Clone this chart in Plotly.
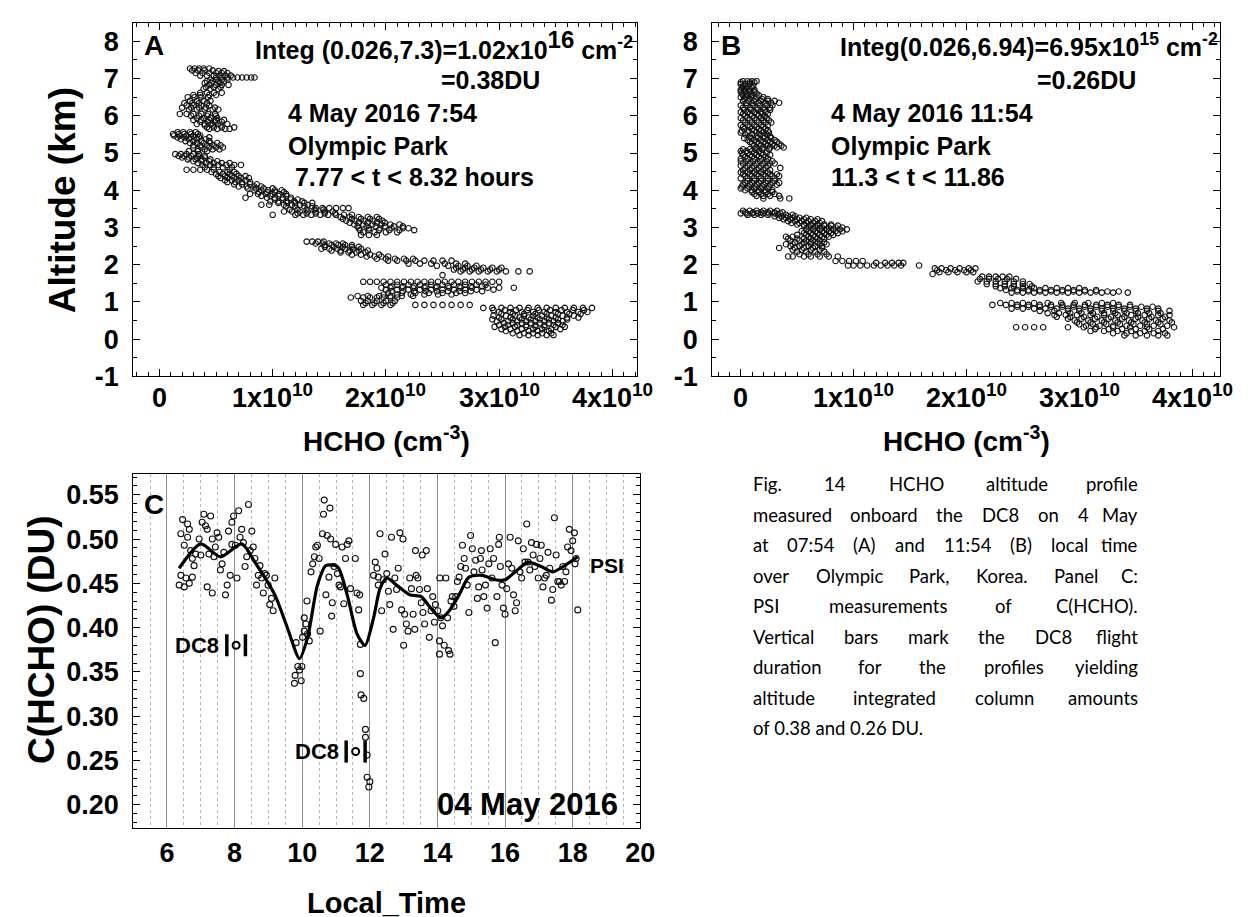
import plotly.graph_objects as go

W, H = 1248, 917

# ---------------- Panel A : HCHO profile 4 May 2016 7:54 (rows of altitude km, HCHO in 1e10 cm^-3)
rows_a = [
    (7.27, [0.27, 0.31, 0.35, 0.39, 0.44]),
    (7.22, [0.29, 0.34, 0.40, 0.47]),
    (7.20, [0.52, 0.57]),
    (7.15, [0.32, 0.38, 0.44, 0.50, 0.55, 0.60]),
    (7.08, [0.36, 0.42, 0.48, 0.53, 0.58, 0.63]),
    (7.03, [0.50, 0.55, 0.60, 0.65, 0.69, 0.73, 0.77, 0.81, 0.84]),
    (6.97, [0.45, 0.50, 0.55, 0.60]),
    (6.93, [0.42, 0.47, 0.52, 0.57]),
    (6.88, [0.40, 0.46, 0.53]),
    (6.83, [0.44, 0.50, 0.55, 0.61]),
    (6.77, [0.41, 0.48, 0.54]),
    (6.72, [0.39, 0.45, 0.52]),
    (6.62, [0.36, 0.42, 0.48, 0.55]),
    (6.56, [0.30, 0.36, 0.44, 0.50]),
    (6.50, [0.25, 0.31, 0.37, 0.43]),
    (6.40, [0.27, 0.33, 0.39, 0.45]),
    (6.34, [0.22, 0.29, 0.35, 0.42]),
    (6.28, [0.24, 0.30, 0.37, 0.44]),
    (6.22, [0.20, 0.28, 0.35, 0.41, 0.49]),
    (6.17, [0.26, 0.33, 0.40, 0.47, 0.52]),
    (6.05, [0.18, 0.24, 0.30, 0.37, 0.43, 0.49]),
    (6.00, [0.28, 0.35, 0.42, 0.50]),
    (5.94, [0.33, 0.39, 0.45, 0.51]),
    (5.89, [0.30, 0.37, 0.44, 0.50, 0.57]),
    (5.84, [0.36, 0.43, 0.49, 0.55]),
    (5.78, [0.33, 0.40, 0.46, 0.52, 0.60]),
    (5.74, [0.40, 0.47, 0.54]),
    (5.69, [0.42, 0.48, 0.55, 0.66]),
    (5.65, [0.44, 0.51, 0.58, 0.62]),
    (5.56, [0.16, 0.21, 0.27, 0.32]),
    (5.51, [0.12, 0.17, 0.22, 0.28, 0.34]),
    (5.47, [0.13, 0.18, 0.24, 0.30, 0.36]),
    (5.42, [0.16, 0.22, 0.28, 0.35, 0.44]),
    (5.37, [0.19, 0.26, 0.33, 0.41]),
    (5.32, [0.23, 0.30, 0.37, 0.44]),
    (5.27, [0.27, 0.33, 0.39, 0.45, 0.51]),
    (5.21, [0.30, 0.36, 0.42, 0.48, 0.54]),
    (5.15, [0.30, 0.37, 0.44, 0.50, 0.56]),
    (5.10, [0.34, 0.40, 0.47, 0.53]),
    (5.05, [0.26, 0.34, 0.42]),
    (4.97, [0.14, 0.19, 0.24, 0.30, 0.35]),
    (4.92, [0.17, 0.22, 0.28, 0.34, 0.40]),
    (4.88, [0.20, 0.26, 0.33, 0.40]),
    (4.83, [0.25, 0.32, 0.38, 0.45]),
    (4.78, [0.30, 0.37, 0.44, 0.51]),
    (4.73, [0.34, 0.41, 0.48, 0.55, 0.62]),
    (4.68, [0.38, 0.45, 0.52, 0.59, 0.66, 0.72]),
    (4.62, [0.40, 0.48, 0.56, 0.64]),
    (4.55, [0.24, 0.30, 0.36, 0.42, 0.48, 0.62]),
    (4.49, [0.46, 0.53, 0.60, 0.66]),
    (4.44, [0.50, 0.56, 0.62, 0.68]),
    (4.38, [0.52, 0.58, 0.64, 0.70, 0.76]),
    (4.33, [0.54, 0.60, 0.66, 0.72, 0.79]),
    (4.27, [0.58, 0.64, 0.70, 0.76]),
    (4.22, [0.60, 0.67, 0.73, 0.80]),
    (4.16, [0.66, 0.73, 0.80, 0.86]),
    (4.10, [0.70, 0.77, 0.84, 0.90]),
    (4.05, [0.78, 0.85, 0.92, 1.00]),
    (4.00, [0.84, 0.90, 0.96, 1.02, 1.08]),
    (3.95, [0.88, 0.95, 1.02, 1.10]),
    (3.90, [0.80, 0.87, 0.94, 1.00, 1.06, 1.12]),
    (3.85, [0.90, 0.98, 1.05, 1.12]),
    (3.80, [0.76, 0.95, 1.02, 1.09, 1.16]),
    (3.75, [1.02, 1.09, 1.16, 1.22]),
    (3.70, [0.98, 1.05, 1.12, 1.19, 1.26]),
    (3.66, [1.05, 1.13, 1.20, 1.28, 1.35]),
    (3.61, [0.90, 0.97, 1.10, 1.17, 1.24, 1.31]),
    (3.57, [1.12, 1.20, 1.28, 1.35]),
    (3.52, [1.38, 1.44, 1.50, 1.56, 1.62, 1.67]),
    (3.48, [1.15, 1.22, 1.30, 1.37, 1.45]),
    (3.43, [1.10, 1.17, 1.24, 1.31, 1.38, 1.46, 1.53]),
    (3.38, [1.22, 1.30, 1.38, 1.46, 1.55]),
    (3.34, [1.00, 1.20, 1.27, 1.34, 1.42, 1.49, 1.56, 1.63, 1.70]),
    (3.28, [1.60, 1.68, 1.76, 1.84, 1.92]),
    (3.23, [1.62, 1.70, 1.78, 1.86, 1.94]),
    (3.18, [1.65, 1.73, 1.81, 1.89, 1.97]),
    (3.13, [1.68, 1.76, 1.84, 1.92, 1.99]),
    (3.08, [1.72, 1.80, 1.88, 1.96, 2.04, 2.12]),
    (3.03, [1.75, 1.83, 1.91, 1.99, 2.07, 2.15]),
    (2.98, [1.76, 1.85, 1.95, 2.05, 2.15, 2.20]),
    (2.93, [1.77, 1.85, 1.94, 2.03, 2.12, 2.25]),
    (2.87, [1.80, 1.90, 2.00, 2.10]),
    (2.80, [1.78, 1.85, 1.92]),
    (2.62, [1.30, 1.35, 1.40, 1.45]),
    (2.57, [1.38, 1.44, 1.50, 1.56, 1.62]),
    (2.53, [1.46, 1.52, 1.58, 1.64, 1.70]),
    (2.48, [1.46, 1.54, 1.62, 1.70, 1.76]),
    (2.43, [1.43, 1.50, 1.57, 1.64, 1.71, 1.78]),
    (2.38, [1.52, 1.60, 1.68, 1.76, 1.84]),
    (2.33, [1.60, 1.67, 1.74, 1.82]),
    (2.27, [1.70, 1.78, 1.86, 1.94]),
    (2.22, [1.83, 1.90, 1.96, 2.02]),
    (2.16, [1.92, 2.00, 2.08, 2.16, 2.24]),
    (2.11, [2.02, 2.10, 2.18, 2.26, 2.34, 2.42, 2.50, 2.58]),
    (2.03, [2.20, 2.30, 2.40, 2.52, 2.62, 2.70]),
    (1.97, [2.45, 2.55, 2.64, 2.72, 2.80]),
    (1.92, [2.62, 2.70, 2.78, 2.86, 2.94, 3.02]),
    (1.87, [2.60, 2.68, 2.76, 2.84, 2.92, 3.00]),
    (1.82, [2.66, 2.74, 2.82, 2.90, 2.98, 3.06, 3.17, 3.27]),
    (1.72, [2.50]),
    (1.54, [1.80, 1.86, 1.92, 1.98, 2.04, 2.10, 2.16, 2.22, 2.28, 2.34, 2.40,
            2.46, 2.52, 2.58, 2.64, 2.70, 2.76, 2.82, 2.88, 2.94, 3.00]),
    (1.46, [2.00, 2.10, 2.20, 2.30, 2.40, 2.50, 2.60, 2.70, 2.80, 2.88]),
    (1.42, [2.05, 2.15, 2.25, 2.35, 2.45, 2.55, 2.65, 2.75, 2.85]),
    (1.38, [1.96, 2.04, 2.14, 2.24, 2.34, 2.44, 2.56, 2.66, 2.76, 2.90, 3.00, 3.13]),
    (1.33, [2.00, 2.10, 2.20, 2.30, 2.40, 2.50, 2.60, 2.70, 2.80, 2.95]),
    (1.29, [2.05, 2.15, 2.25, 2.35, 2.45, 2.55, 2.65, 2.75, 2.85]),
    (1.24, [2.02, 2.14, 2.26, 2.38, 2.50, 2.62, 2.70]),
    (1.20, [1.98, 2.10, 2.22, 2.34, 2.46, 2.58]),
    (1.16, [1.75, 1.84, 1.94, 2.04, 2.14, 2.24]),
    (1.12, [1.69, 1.80, 1.86, 1.92, 1.98, 2.04, 2.10]),
    (1.03, [1.78, 1.84, 1.92, 2.00, 2.08]),
    (0.97, [1.82, 1.90, 1.98, 2.06]),
    (0.92, [1.80, 1.88, 1.96, 2.04, 2.26, 2.34, 2.42, 2.50, 2.58, 2.66, 2.74]),
    (0.84, [2.86, 2.94, 3.02, 3.10, 3.18, 3.26, 3.34, 3.42, 3.50, 3.58, 3.66, 3.74, 3.82]),
    (0.78, [2.95, 3.05, 3.15, 3.25, 3.35, 3.45, 3.55, 3.65, 3.75]),
    (0.73, [3.00, 3.10, 3.20, 3.30, 3.40, 3.50, 3.60, 3.70, 3.78]),
    (0.68, [3.02, 3.12, 3.22, 3.32, 3.42, 3.52, 3.62, 3.72]),
    (0.63, [2.95, 3.06, 3.14, 3.22, 3.30, 3.38, 3.46, 3.56, 3.66]),
    (0.58, [3.00, 3.10, 3.18, 3.26, 3.34, 3.42, 3.50, 3.60, 3.70]),
    (0.53, [2.94, 3.02, 3.12, 3.20, 3.28, 3.36, 3.44, 3.52, 3.60]),
    (0.48, [2.98, 3.08, 3.16, 3.24, 3.32, 3.40, 3.48, 3.56]),
    (0.43, [3.04, 3.12, 3.20, 3.28, 3.36, 3.44, 3.52]),
    (0.38, [3.00, 3.08, 3.16, 3.24, 3.32, 3.40, 3.48, 3.56]),
    (0.33, [2.96, 3.05, 3.14, 3.24, 3.32, 3.40, 3.50, 3.58]),
    (0.27, [3.02, 3.10, 3.20, 3.30, 3.38, 3.46, 3.54]),
    (0.22, [3.06, 3.16, 3.26, 3.34, 3.44]),
    (0.16, [3.12, 3.22, 3.30, 3.38, 3.46]),
    (0.11, [3.18, 3.26, 3.34, 3.42, 3.48]),
]

# ---------------- Panel B : HCHO profile 4 May 2016 11:54
rows_b = [
    (6.93, [0.02, 0.06, 0.10, 0.14]),
    (6.90, [0.00, 0.08, 0.12]),
    (6.85, [0.00, 0.04, 0.08]),
    (6.80, [0.02, 0.06, 0.11]),
    (6.75, [0.01, 0.05, 0.10]),
    (6.70, [0.00, 0.03, 0.07, 0.12]),
    (6.65, [0.00, 0.04, 0.08, 0.12]),
    (6.60, [0.01, 0.05, 0.09, 0.14]),
    (6.55, [0.02, 0.06, 0.10, 0.16]),
    (6.50, [0.00, 0.04, 0.09, 0.14, 0.20]),
    (6.45, [0.03, 0.08, 0.13, 0.19, 0.24]),
    (6.40, [0.02, 0.07, 0.12, 0.18, 0.24, 0.30]),
    (6.35, [0.05, 0.10, 0.16, 0.22, 0.27, 0.34]),
    (6.28, [0.00, 0.05, 0.11, 0.17, 0.23, 0.28]),
    (6.22, [0.02, 0.08, 0.14, 0.20, 0.26]),
    (6.16, [0.03, 0.09, 0.15, 0.21, 0.26]),
    (6.10, [0.00, 0.06, 0.12, 0.18, 0.22]),
    (6.05, [0.02, 0.08, 0.14, 0.19, 0.24]),
    (6.00, [0.04, 0.10, 0.16, 0.21]),
    (5.94, [0.00, 0.06, 0.12, 0.18, 0.23]),
    (5.88, [0.02, 0.08, 0.14, 0.20, 0.25]),
    (5.82, [0.04, 0.10, 0.16, 0.22, 0.27]),
    (5.75, [0.00, 0.06, 0.12, 0.18, 0.24]),
    (5.70, [0.02, 0.08, 0.14, 0.20]),
    (5.65, [0.03, 0.10, 0.16, 0.22]),
    (5.60, [0.01, 0.07, 0.12, 0.18, 0.24]),
    (5.55, [0.00, 0.06, 0.14, 0.20, 0.25]),
    (5.50, [0.04, 0.10, 0.17, 0.23]),
    (5.45, [0.08, 0.14, 0.20, 0.26]),
    (5.40, [0.03, 0.09, 0.15, 0.21, 0.27]),
    (5.35, [0.06, 0.12, 0.18, 0.24, 0.30]),
    (5.30, [0.08, 0.14, 0.20, 0.26, 0.32]),
    (5.25, [0.10, 0.16, 0.22, 0.28, 0.34]),
    (5.20, [0.12, 0.18, 0.24, 0.30, 0.36]),
    (5.15, [0.14, 0.20, 0.26, 0.32, 0.38]),
    (5.10, [0.02, 0.08, 0.13, 0.19, 0.25]),
    (5.05, [0.00, 0.05, 0.10, 0.16]),
    (5.00, [0.01, 0.06, 0.12, 0.18, 0.23]),
    (4.95, [0.02, 0.08, 0.14, 0.20, 0.26]),
    (4.90, [0.04, 0.10, 0.16, 0.22]),
    (4.85, [0.00, 0.06, 0.12, 0.18, 0.24]),
    (4.78, [0.00, 0.05, 0.11, 0.17, 0.23, 0.28]),
    (4.72, [0.02, 0.08, 0.14, 0.20, 0.26, 0.30]),
    (4.66, [0.00, 0.06, 0.12, 0.18, 0.24]),
    (4.60, [0.04, 0.10, 0.16, 0.22, 0.35]),
    (4.54, [0.02, 0.08, 0.14, 0.20, 0.26]),
    (4.48, [0.00, 0.06, 0.12, 0.18, 0.24]),
    (4.43, [0.02, 0.08, 0.14, 0.20, 0.26, 0.32]),
    (4.38, [0.04, 0.10, 0.16, 0.22, 0.28, 0.34]),
    (4.32, [0.00, 0.06, 0.12, 0.18, 0.24, 0.30]),
    (4.25, [0.06, 0.12, 0.18, 0.24, 0.30]),
    (4.20, [0.04, 0.10, 0.16, 0.22, 0.28, 0.34]),
    (4.15, [0.02, 0.08, 0.14, 0.20, 0.26, 0.32]),
    (4.10, [0.01, 0.07, 0.13, 0.19, 0.25]),
    (4.05, [0.00, 0.06, 0.12, 0.18, 0.24]),
    (4.00, [0.04, 0.10, 0.16, 0.22, 0.28]),
    (3.95, [0.10, 0.16, 0.22, 0.28]),
    (3.90, [0.12, 0.18, 0.24, 0.30]),
    (3.85, [0.14, 0.20, 0.26, 0.34]),
    (3.78, [0.20, 0.35, 0.43]),
    (3.45, [0.02, 0.08, 0.14, 0.20, 0.26, 0.32]),
    (3.41, [0.04, 0.11, 0.18, 0.24, 0.30, 0.37]),
    (3.38, [0.00, 0.05, 0.10, 0.15, 0.20, 0.25, 0.30, 0.35]),
    (3.34, [0.06, 0.12, 0.18, 0.24, 0.33, 0.40, 0.46]),
    (3.30, [0.30, 0.36, 0.42, 0.48]),
    (3.26, [0.34, 0.40, 0.46, 0.52, 0.58]),
    (3.22, [0.38, 0.44, 0.50, 0.56, 0.62, 0.68]),
    (3.17, [0.42, 0.48, 0.54, 0.60, 0.66, 0.72]),
    (3.12, [0.45, 0.52, 0.58, 0.64, 0.70]),
    (3.08, [0.50, 0.56, 0.62, 0.68, 0.74, 0.80]),
    (3.05, [0.56, 0.62, 0.68, 0.74, 0.80, 0.86]),
    (3.00, [0.60, 0.66, 0.72, 0.78, 0.84, 0.90]),
    (2.95, [0.58, 0.64, 0.70, 0.76, 0.82, 0.88, 0.94]),
    (2.90, [0.54, 0.60, 0.66, 0.72, 0.78, 0.84, 0.90]),
    (2.85, [0.56, 0.62, 0.68, 0.74, 0.80, 0.86]),
    (2.80, [0.50, 0.58, 0.64, 0.70, 0.76, 0.82]),
    (2.75, [0.40, 0.46, 0.60, 0.66, 0.72, 0.78]),
    (2.70, [0.42, 0.50, 0.56, 0.62, 0.68, 0.74]),
    (2.65, [0.44, 0.52, 0.58, 0.64, 0.70]),
    (2.60, [0.48, 0.56, 0.62, 0.68, 0.74]),
    (2.55, [0.40, 0.46, 0.54, 0.62, 0.70, 0.76]),
    (2.50, [0.44, 0.52, 0.60, 0.66, 0.72]),
    (2.45, [0.34, 0.48, 0.56, 0.64, 0.72]),
    (2.40, [0.46, 0.54, 0.62, 0.70]),
    (2.35, [0.50, 0.58, 0.66, 0.74]),
    (2.28, [0.52, 0.60, 0.68, 0.76]),
    (2.22, [0.42, 0.46, 0.56, 0.62, 0.70, 0.78, 0.86]),
    (2.10, [0.84, 0.90, 0.96, 1.02, 1.08]),
    (2.05, [1.20, 1.28, 1.34, 1.40, 1.44]),
    (1.98, [0.95, 1.00, 1.06, 1.12, 1.18, 1.24, 1.30, 1.36, 1.42, 1.58]),
    (1.90, [1.72, 1.78, 1.86, 1.94, 2.02, 2.08]),
    (1.85, [1.74, 1.82, 1.90, 1.98, 2.04]),
    (1.80, [1.76, 1.84, 1.92, 2.00, 2.06]),
    (1.75, [1.70]),
    (1.68, [2.14, 2.20, 2.26, 2.32, 2.38]),
    (1.62, [2.12, 2.20, 2.28, 2.36, 2.44]),
    (1.55, [2.10, 2.18, 2.26, 2.34, 2.42, 2.50]),
    (1.48, [2.18, 2.26, 2.34, 2.42, 2.50, 2.56]),
    (1.42, [2.26, 2.34, 2.42, 2.50, 2.58]),
    (1.37, [2.30, 2.40, 2.50, 2.60, 2.70, 2.80, 2.90, 3.00]),
    (1.32, [2.35, 2.45, 2.55, 2.65, 2.75, 2.85, 2.95, 3.05, 3.15]),
    (1.28, [2.45, 2.55, 2.65, 2.75, 2.85, 2.95, 3.05, 3.15, 3.25, 3.35]),
    (1.25, [2.40, 2.50, 2.60, 2.70, 2.80, 2.90, 3.00, 3.10, 3.20, 3.30, 3.43]),
    (0.97, [2.30, 2.40, 2.50, 2.60, 2.72, 2.84, 2.96, 3.08, 3.20, 3.30]),
    (0.92, [2.23, 2.35, 2.45, 2.55, 2.65, 2.75, 2.85, 2.95, 3.05, 3.15, 3.25, 3.35, 3.45]),
    (0.87, [2.45, 2.55, 2.65, 2.75, 2.85, 2.95, 3.05, 3.15, 3.25, 3.35, 3.45, 3.55, 3.65]),
    (0.82, [2.40, 2.50, 2.60, 2.70, 2.80, 2.90, 3.00, 3.10, 3.20, 3.30, 3.40, 3.50, 3.60, 3.70]),
    (0.76, [2.65, 2.78, 2.90, 3.00, 3.10, 3.20, 3.30, 3.40, 3.50, 3.60, 3.70, 3.80]),
    (0.70, [2.72, 2.82, 2.92, 3.02, 3.12, 3.22, 3.32, 3.42, 3.52, 3.62, 3.72]),
    (0.65, [2.78, 2.88, 2.98, 3.10, 3.22, 3.34, 3.46, 3.58, 3.70, 3.80]),
    (0.60, [2.80, 2.92, 3.04, 3.16, 3.28, 3.40, 3.52, 3.64, 3.76]),
    (0.55, [2.90, 3.02, 3.14, 3.26, 3.38, 3.50, 3.62, 3.74]),
    (0.50, [2.96, 3.08, 3.20, 3.32, 3.44, 3.56, 3.68, 3.80]),
    (0.45, [2.98, 3.10, 3.22, 3.34, 3.46, 3.58, 3.70, 3.82]),
    (0.40, [3.00, 3.12, 3.24, 3.36, 3.48, 3.60, 3.72]),
    (0.36, [3.06, 3.18, 3.30, 3.42, 3.54, 3.66, 3.78]),
    (0.32, [2.44, 2.52, 2.60, 2.68, 2.90, 3.04, 3.15, 3.30, 3.45, 3.60, 3.84]),
    (0.27, [3.14, 3.26, 3.38, 3.50, 3.62, 3.74]),
    (0.22, [3.10, 3.22, 3.34, 3.46, 3.58, 3.70]),
    (0.16, [3.30, 3.42, 3.54, 3.66, 3.76]),
    (0.10, [3.40, 3.50, 3.60, 3.70, 3.78]),
]

# ---------------- Panel C : PSI C(HCHO) (DU) vs local time
psi_points = [
    (6.46, 0.522), (6.41, 0.506), (6.51, 0.493), (6.61, 0.517), (6.66, 0.511), (6.61, 0.502),
    (6.70, 0.487), (6.75, 0.478), (6.80, 0.470), (6.41, 0.459), (6.36, 0.448), (6.51, 0.446),
    (6.56, 0.456), (6.66, 0.450), (6.75, 0.457), (6.85, 0.483), (6.95, 0.500), (7.00, 0.482),
    (7.04, 0.519), (7.09, 0.528), (7.14, 0.515), (7.19, 0.511), (7.24, 0.483), (7.29, 0.526),
    (7.34, 0.500), (7.19, 0.446), (7.34, 0.439), (7.39, 0.480), (7.43, 0.491), (7.48, 0.507),
    (7.53, 0.502), (7.58, 0.465), (7.63, 0.472), (7.68, 0.485), (7.73, 0.437), (7.78, 0.448),
    (7.82, 0.509), (7.87, 0.459), (7.92, 0.519), (7.92, 0.494), (7.97, 0.526), (8.02, 0.493),
    (8.07, 0.456), (8.12, 0.532), (8.16, 0.502), (8.21, 0.511), (8.26, 0.496), (8.31, 0.469),
    (8.36, 0.480), (8.41, 0.539), (8.46, 0.487), (8.51, 0.509), (8.55, 0.491), (8.60, 0.478),
    (8.65, 0.448), (8.70, 0.459), (8.75, 0.470), (8.80, 0.456), (8.85, 0.439), (8.89, 0.461),
    (8.94, 0.459), (8.99, 0.448), (9.04, 0.426), (9.09, 0.433), (9.14, 0.419), (9.19, 0.456),
    (9.82, 0.383), (9.79, 0.346), (9.77, 0.337), (9.87, 0.356), (9.92, 0.352), (9.97, 0.340),
    (9.99, 0.356), (10.01, 0.389), (10.06, 0.396), (10.11, 0.404), (10.06, 0.411), (10.16, 0.393),
    (10.21, 0.385), (10.14, 0.430), (10.53, 0.396),
    (10.26, 0.463), (10.31, 0.472), (10.36, 0.480), (10.40, 0.491), (10.45, 0.493), (10.50, 0.478),
    (10.60, 0.506), (10.63, 0.528), (10.65, 0.544), (10.70, 0.437), (10.74, 0.504), (10.79, 0.457),
    (10.82, 0.535), (10.84, 0.500), (10.87, 0.413), (10.89, 0.428), (10.94, 0.469), (10.99, 0.494),
    (11.04, 0.461), (11.09, 0.448), (11.13, 0.446), (11.18, 0.491), (11.23, 0.427), (11.28, 0.478),
    (11.33, 0.494), (11.38, 0.498), (11.43, 0.444), (11.57, 0.478), (11.62, 0.439), (11.67, 0.420),
    (11.70, 0.437), (11.72, 0.381),
    (11.72, 0.348), (11.74, 0.324), (11.82, 0.320), (11.87, 0.285), (11.87, 0.276), (11.92, 0.256),
    (11.92, 0.231), (12.00, 0.226), (11.97, 0.220),
    (12.11, 0.459), (12.16, 0.474), (12.21, 0.467), (12.25, 0.457), (12.30, 0.506), (12.35, 0.419),
    (12.25, 0.448), (12.40, 0.454), (12.45, 0.483), (12.50, 0.461), (12.55, 0.441), (12.59, 0.426),
    (12.64, 0.502), (12.69, 0.398), (12.74, 0.456), (12.79, 0.443), (12.84, 0.467), (12.89, 0.507),
    (12.94, 0.420), (12.98, 0.500), (13.00, 0.380), (13.03, 0.415), (13.08, 0.404), (13.13, 0.396),
    (13.18, 0.456), (13.23, 0.444), (13.28, 0.415), (13.33, 0.398), (13.35, 0.487), (13.37, 0.459),
    (13.42, 0.456), (13.47, 0.443), (13.52, 0.428), (13.55, 0.482), (13.57, 0.417), (13.62, 0.404),
    (13.67, 0.487), (13.70, 0.444), (13.76, 0.389), (13.81, 0.419), (13.86, 0.435), (13.91, 0.406),
    (13.94, 0.426),
    (14.01, 0.419), (14.06, 0.385), (14.07, 0.456), (14.10, 0.411), (14.15, 0.402), (14.20, 0.380),
    (14.25, 0.456), (14.30, 0.411), (14.33, 0.374), (14.37, 0.370), (14.06, 0.370), (14.40, 0.430),
    (14.44, 0.435), (14.49, 0.424), (14.54, 0.435),
    (14.59, 0.452), (14.64, 0.457), (14.69, 0.469), (14.74, 0.493), (14.79, 0.478), (14.83, 0.467),
    (14.88, 0.448), (14.93, 0.417), (14.98, 0.504), (15.03, 0.489), (15.08, 0.463), (15.13, 0.476),
    (15.18, 0.433), (15.22, 0.446), (15.27, 0.478), (15.30, 0.487), (15.32, 0.465), (15.37, 0.435),
    (15.42, 0.448), (15.47, 0.422), (15.52, 0.472), (15.56, 0.489), (15.61, 0.456), (15.66, 0.478),
    (15.71, 0.383), (15.76, 0.435), (15.81, 0.494), (15.83, 0.502), (15.86, 0.469), (15.91, 0.448),
    (15.95, 0.422), (16.00, 0.415), (16.05, 0.444), (16.10, 0.472), (16.15, 0.502), (16.20, 0.467),
    (16.25, 0.437), (16.30, 0.419), (16.34, 0.428), (16.39, 0.498), (16.44, 0.463), (16.49, 0.456),
    (16.54, 0.489), (16.59, 0.474), (16.64, 0.517), (16.68, 0.474), (16.73, 0.465), (16.78, 0.496),
    (16.83, 0.482), (16.88, 0.469), (16.93, 0.494), (16.98, 0.456), (17.03, 0.478), (17.07, 0.493),
    (17.12, 0.446), (17.17, 0.456), (17.22, 0.459), (17.27, 0.485), (17.32, 0.467), (17.37, 0.431),
    (17.41, 0.443), (17.46, 0.524), (17.51, 0.482), (17.56, 0.452), (17.61, 0.452), (17.66, 0.448),
    (17.71, 0.469), (17.76, 0.452), (17.80, 0.463), (17.85, 0.491), (17.90, 0.511), (17.95, 0.487),
    (18.00, 0.498), (18.05, 0.507), (18.07, 0.472), (18.10, 0.478), (18.15, 0.420),
]

smooth_time = [6.36, 7.00, 7.58, 8.21, 8.60, 9.19, 9.55, 9.92, 10.16, 10.45, 10.70, 11.04, 11.33,
               11.62, 11.86, 12.11, 12.30, 12.50, 12.79, 13.18, 13.52, 13.76, 14.10, 14.35, 14.64,
               14.93, 15.32, 15.71, 16.00, 16.30, 16.68, 17.07, 17.41, 17.76, 18.15]
smooth_du = [0.467, 0.4945, 0.480, 0.4945, 0.474, 0.437, 0.401, 0.365, 0.389, 0.448, 0.470, 0.469,
             0.437, 0.393, 0.380, 0.411, 0.444, 0.456, 0.448, 0.437, 0.435, 0.424, 0.411, 0.419,
             0.437, 0.457, 0.459, 0.454, 0.454, 0.463, 0.474, 0.469, 0.463, 0.470, 0.480]

# DC8 flight windows (hours) and integrated columns (DU)
dc8_start = [7.77, 11.3]
dc8_end = [8.32, 11.86]
dc8_du = [0.38, 0.26]

x_ticks_hcho = [0, 1e10, 2e10, 3e10, 4e10]
x_ticktext_hcho = ["0", "1x10<sup>10</sup>", "2x10<sup>10</sup>", "3x10<sup>10</sup>", "4x10<sup>10</sup>"]
alt_ticks = [-1, 0, 1, 2, 3, 4, 5, 6, 7, 8]

caption_lines = [
    "Fig. 14 HCHO altitude profile",
    "measured onboard the DC8 on 4 May",
    "at 07:54 (A) and 11:54 (B) local time",
    "over Olympic Park, Korea. Panel C:",
    "PSI measurements of C(HCHO).",
    "Vertical bars mark the DC8 flight",
    "duration for the profiles yielding",
    "altitude integrated column amounts",
    "of 0.38 and 0.26 DU.",
]

# ---------------------------------------------------------------
def flatten(rows):
    xs, ys = [], []
    for alt, vals in rows:
        for v in vals:
            xs.append(v * 1e10)
            ys.append(alt)
    return xs, ys

hcho_a, alt_a = flatten(rows_a)
hcho_b, alt_b = flatten(rows_b)
psi_t = [p[0] for p in psi_points]
psi_v = [p[1] for p in psi_points]

BF = "Liberation Sans, Arial, sans-serif"
fig = go.Figure()

mk = dict(symbol="circle-open", size=5.5, color="#111", line=dict(width=1.1, color="#111"))
fig.add_trace(go.Scatter(x=hcho_a, y=alt_a, mode="markers", marker=mk, xaxis="x", yaxis="y", showlegend=False))
fig.add_trace(go.Scatter(x=hcho_b, y=alt_b, mode="markers", marker=mk, xaxis="x2", yaxis="y2", showlegend=False))
fig.add_trace(go.Scatter(x=psi_t, y=psi_v, mode="markers",
                         marker=dict(symbol="circle-open", size=6, color="#111", line=dict(width=1.1, color="#111")),
                         xaxis="x3", yaxis="y3", showlegend=False))
fig.add_trace(go.Scatter(x=smooth_time, y=smooth_du, mode="lines",
                         line=dict(color="black", width=3.2, shape="spline", smoothing=0.7),
                         xaxis="x3", yaxis="y3", showlegend=False))
fig.add_trace(go.Scatter(x=[(s + e) / 2 for s, e in zip(dc8_start, dc8_end)], y=dc8_du, mode="markers",
                         marker=dict(symbol="circle-open", size=7, color="black", line=dict(width=2, color="black")),
                         xaxis="x3", yaxis="y3", showlegend=False))

for s, e, v in zip(dc8_start, dc8_end, dc8_du):
    for t in (s, e):
        fig.add_shape(type="line", xref="x3", yref="y3", x0=t, x1=t, y0=v - 0.0125, y1=v + 0.0125,
                      line=dict(color="black", width=3.5))


def dom(a, b, total):
    return [a / total, b / total]

def ydom(top, bottom):
    return [1 - bottom / H, 1 - top / H]

tickfont = dict(family=BF, size=27, color="black", weight="bold")
common = dict(showline=True, linecolor="black", linewidth=1, mirror="ticks", zeroline=False,
              showgrid=False, tickfont=tickfont, ticks="inside", tickcolor="black")

xa = dict(common, range=[-0.232e10, 4.218e10], tickmode="array", tickvals=x_ticks_hcho,
          showticklabels=False, ticklen=7,
          minor=dict(dtick=1e9, tick0=0, ticks="inside", ticklen=4, tickcolor="black"))
ya = dict(common, range=[-1, 8.5], tickmode="array", tickvals=alt_ticks,
          ticktext=[str(v) for v in alt_ticks], ticklen=7,
          minor=dict(dtick=0.5, tick0=0, ticks="inside", ticklen=4, tickcolor="black"),
          ticklabelstandoff=8)

fig.update_layout(
    width=W, height=H, margin=dict(l=0, r=0, t=0, b=0),
    paper_bgcolor="white", plot_bgcolor="white",
    xaxis=dict(xa, domain=dom(126.7, 636.7, W), anchor="y"),
    yaxis=dict(ya, domain=ydom(15, 374.5), anchor="x"),
    xaxis2=dict(xa, domain=dom(712.7, 1226.7, W), range=[-0.254e10, 4.247e10], anchor="y2"),
    yaxis2=dict(ya, domain=ydom(15, 374.5), anchor="x2"),
    xaxis3=dict(common, domain=dom(126.7, 640, W), range=[5, 20], anchor="y3", dtick=2, tick0=0,
                ticks="", showgrid=True, gridcolor="#8c8c8c", gridwidth=1,
                minor=dict(dtick=0.5, tick0=0, showgrid=True, gridcolor="#b5b5b5", griddash="dot", gridwidth=1),
                ticklabelstandoff=1),
    yaxis3=dict(common, domain=ydom(473.3, 833.3), range=[0.174, 0.574], anchor="x3", dtick=0.05, tick0=0,
                tickformat=".2f", ticklen=7,
                minor=dict(dtick=0.01, tick0=0, ticks="inside", ticklen=4, tickcolor="black"),
                ticklabelstandoff=8),
)

ann = []

def A(text, x, y, size, xanchor="left", yanchor="middle", family=BF, bold=True, textangle=0, xref="paper", yref="paper"):
    if xref == "paper":
        x = x / W
    if yref == "paper":
        y = 1 - y / H
    t = f"<b>{text}</b>" if bold else text
    ann.append(dict(text=t, x=x, y=y, xref=xref, yref=yref, xanchor=xanchor, yanchor=yanchor,
                    showarrow=False, textangle=textangle,
                    font=dict(family=family, size=size, color="black")))

# x tick labels of the HCHO axes (placed at the axis tick values)
for xr in ("x", "x2"):
    for v, t in zip(x_ticks_hcho, x_ticktext_hcho):
        A(t, v, 414, 27, xanchor="center", yanchor="bottom", xref=xr)

# Panel A texts
A("A", 136, 38, 28)
A("Integ (0.026,7.3)=1.02x10<sup><span style='font-size:24px'>16</span></sup> cm<sup>-2</sup>", 635, 38, 25, xanchor="right")
A("=0.38DU", 488, 73, 25, xanchor="center")
A("4 May 2016 7:54", 281, 107, 25)
A("Olympic Park", 281, 140, 25)
A(" 7.77 &lt; t &lt; 8.32 hours", 281, 172, 25)
# Panel B texts
A("B", 720, 38, 28)
A("Integ(0.026,6.94)=6.95x10<sup>15</sup> cm<sup>-2</sup>", 1227, 38, 25, xanchor="right")
A("=0.26DU", 1092, 73, 25, xanchor="center")
A("4 May 2016 11:54", 831, 107, 25)
A("Olympic Park", 831, 140, 25)
A("11.3 &lt; t &lt; 11.86", 831, 172, 25)
# Axis titles
A("Altitude (km)", 55, 195, 37, xanchor="center", textangle=-90)
A("HCHO (cm<sup>-3</sup>)", 383, 438, 28, xanchor="center")
A("HCHO (cm<sup>-3</sup>)", 970, 438, 28, xanchor="center")
A("C(HCHO) (DU)", 34, 642, 37, xanchor="center", textangle=-90)
A("Local_Time", 383, 910, 29, xanchor="center")
# Panel C texts
A("C", 136, 505, 28)
A("PSI", 18.45, 0.470, 21, xref="x3", yref="y3")
A("04 May 2016", 19.4, 0.200, 31, xanchor="right", xref="x3", yref="y3")
for s, v in zip(dc8_start, dc8_du):
    A("DC8", s - 0.16, v, 22, xanchor="right", xref="x3", yref="y3")

# Caption (justified)
cw = {"a": .49, "b": .56, "c": .47, "d": .56, "e": .52, "f": .33, "g": .50, "h": .56, "i": .24,
      "j": .24, "k": .50, "l": .24, "m": .83, "n": .56, "o": .56, "p": .56, "q": .56, "r": .36,
      "s": .42, "t": .35, "u": .56, "v": .50, "w": .76, "x": .49, "y": .50, "z": .46,
      "A": .67, "B": .62, "C": .66, "D": .74, "E": .55, "F": .53, "G": .71, "H": .74, "I": .28,
      "K": .64, "L": .49, "M": .90, "N": .74, "O": .78, "P": .60, "R": .62, "S": .52, "T": .56,
      "U": .71, "V": .66, "W": 1.0, "Y": .61, ".": .22, ",": .22, ":": .24, "(": .30, ")": .30}
CAP_SIZE = 18.5
CAP_FONT = "Lato"

def wlen(word):
    return sum(cw.get(c, 0.58) for c in word) * CAP_SIZE

left, right = 752, 1146
for i, line in enumerate(caption_lines):
    y = 484 + 31 * i
    words = line.split()
    if i == len(caption_lines) - 1:
        A(line, left, y, CAP_SIZE, family=CAP_FONT, bold=False)
        continue
    total = sum(wlen(w) for w in words)
    gap = (right - left - total) / (len(words) - 1)
    x = left
    for j, w in enumerate(words):
        if j == len(words) - 1:
            A(w, right, y, CAP_SIZE, xanchor="right", family=CAP_FONT, bold=False)
        else:
            A(w, x, y, CAP_SIZE, family=CAP_FONT, bold=False)
        x += wlen(w) + gap

fig.update_layout(annotations=ann)
fig.write_html("out.html")
